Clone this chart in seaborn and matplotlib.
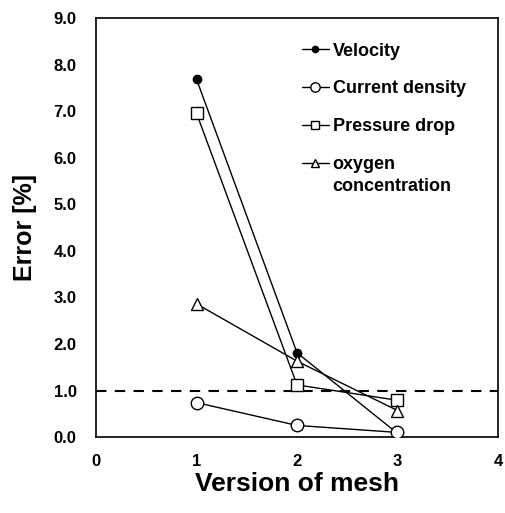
import matplotlib
matplotlib.use("Agg")
import matplotlib.pyplot as plt
import seaborn as sns
import pandas as pd

sns.set_style("white")
plt.rcParams['font.family'] = ['Liberation Sans', 'DejaVu Sans']
plt.rcParams['font.weight'] = 'bold'
plt.rcParams['text.color'] = 'black'
plt.rcParams['axes.labelcolor'] = 'black'
plt.rcParams['xtick.color'] = 'black'
plt.rcParams['ytick.color'] = 'black'

mesh = [1, 2, 3]
velocity = [7.68, 1.81, 0.08]
current_density = [0.74, 0.25, 0.10]
pressure_drop = [6.95, 1.12, 0.79]
oxygen = [2.86, 1.63, 0.57]
series_names = ["Velocity", "Current density", "Pressure drop", "oxygen"]
oxygen_label_second_line = "concentration"
xticks = [0, 1, 2, 3, 4]
yticks = [0, 1, 2, 3, 4, 5, 6, 7, 8, 9]
threshold = 1.0

fig = plt.figure(figsize=(5.06, 5.13), dpi=100)
ax = fig.add_axes([0.19, 0.148, 0.794, 0.817])

styles = [
    dict(marker='o', markersize=6, markerfacecolor='black'),
    dict(marker='o', markersize=9, markerfacecolor='white'),
    dict(marker='s', markersize=8, markerfacecolor='white'),
    dict(marker='^', markersize=8.5, markerfacecolor='white'),
]
data = [velocity, current_density, pressure_drop, oxygen]
order = [0, 2, 3, 1]
for i in order:
    df = pd.DataFrame({"mesh": mesh, "err": data[i]})
    sns.lineplot(data=df, x="mesh", y="err", ax=ax, color='black', linewidth=1.0,
                 markeredgecolor='black', markeredgewidth=1.0, label=series_names[i],
                 zorder=3, **styles[i])

ax.axhline(threshold, color='black', linestyle=(0, (5, 4)), linewidth=1.5, zorder=1)

ax.set_xlim(0, 4)
ax.set_ylim(0, 9)
ax.set_xticks(xticks)
ax.set_yticks(yticks)
ax.set_xticklabels([str(v) for v in xticks])
ax.set_yticklabels([f"{v:.1f}" for v in yticks])
ax.tick_params(direction='in', length=4, width=1, labelsize=12, colors='black')
ax.tick_params(axis='x', pad=12)
ax.tick_params(axis='y', pad=14)
for lab in ax.get_xticklabels() + ax.get_yticklabels():
    lab.set_fontweight('bold')
for s in ax.spines.values():
    s.set_color('black')
    s.set_linewidth(1.2)

ax.set_xlabel("Version of mesh", fontsize=19, fontweight='bold', labelpad=2, color='black')
ax.set_ylabel("Error [%]", fontsize=18, fontweight='bold', labelpad=12, color='black')

handles, labels = ax.get_legend_handles_labels()
hmap = dict(zip(labels, handles))
leg = ax.legend([hmap[n] for n in series_names], series_names, loc='upper left',
                bbox_to_anchor=(0.512, 0.941), frameon=False, borderpad=0, borderaxespad=0,
                handlelength=1.5, handletextpad=0.2, labelspacing=1.15, markerscale=0.75,
                prop={'weight': 'bold', 'size': 13})
for t in leg.get_texts():
    t.set_fontweight('bold')
    t.set_color('black')

# second line of the last legend label, placed directly under "oxygen"
fig.canvas.draw()
last = leg.get_texts()[-1]
bb = last.get_window_extent(fig.canvas.get_renderer())
x0, y0 = ax.transAxes.inverted().transform((bb.x0, bb.y0 - 22))
ax.text(x0, y0, oxygen_label_second_line, transform=ax.transAxes,
        fontsize=13, fontweight='bold', color='black', ha='left', va='bottom')

fig.savefig("out.png", dpi=100)
